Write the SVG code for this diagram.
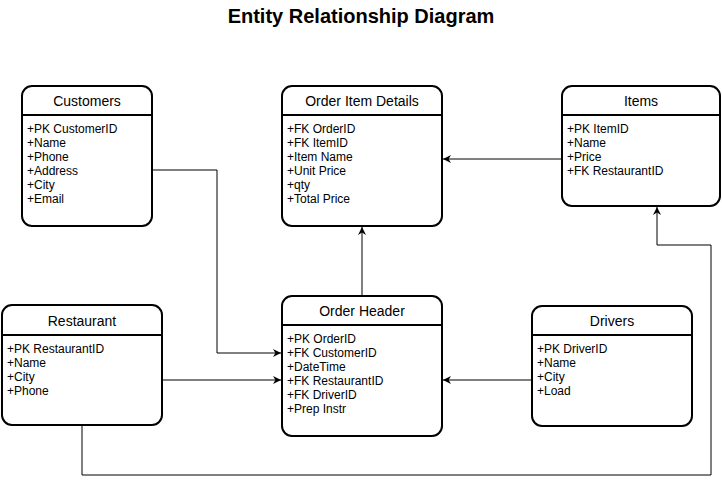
<svg xmlns="http://www.w3.org/2000/svg" width="722" height="484" viewBox="0 0 722 484">
<style>
.box{fill:#fff;stroke:#000;stroke-width:2}
.sep{stroke:#000;stroke-width:2}
.hd{font-family:"Liberation Sans",Arial,sans-serif;font-size:14px;text-anchor:middle;fill:#000}
.at{font-family:"Liberation Sans",Arial,sans-serif;font-size:12px;fill:#000}
.title{font-family:"Liberation Sans",Arial,sans-serif;font-size:20px;font-weight:bold;text-anchor:middle;fill:#000}
.cn{fill:none;stroke:#000;stroke-width:1}
</style>
<defs>
<marker id="arr" viewBox="0 0 10 10" refX="10" refY="5" markerWidth="8" markerHeight="8" markerUnits="userSpaceOnUse" orient="auto">
<path d="M0,0 L10,5 L0,10 L3,5 Z" fill="#000"/>
</marker>
</defs>
<rect width="722" height="484" fill="#fff"/>
<text class="title" x="361" y="23">Entity Relationship Diagram</text>

<g id="connectors">
<polyline class="cn" points="152,170 217,170 217,353 281,353" marker-end="url(#arr)"/>
<line class="cn" x1="162" y1="380" x2="281" y2="380" marker-end="url(#arr)"/>
<line class="cn" x1="532" y1="380" x2="443" y2="380" marker-end="url(#arr)"/>
<line class="cn" x1="362" y1="296" x2="362" y2="227" marker-end="url(#arr)"/>
<line class="cn" x1="562" y1="159" x2="443" y2="159" marker-end="url(#arr)"/>
<polyline class="cn" points="82,425 82,475 711,475 711,245 657,245 657,207" marker-end="url(#arr)"/>
</g>

<g id="customers">
<rect class="box" x="22" y="86" width="130" height="140" rx="10"/>
<line class="sep" x1="22" y1="115" x2="152" y2="115"/>
<text class="hd" x="87" y="106">Customers</text>
<text class="at" x="27" y="133">+PK CustomerID</text>
<text class="at" x="27" y="147">+Name</text>
<text class="at" x="27" y="161">+Phone</text>
<text class="at" x="27" y="175">+Address</text>
<text class="at" x="27" y="189">+City</text>
<text class="at" x="27" y="203">+Email</text>
</g>

<g id="order-item-details">
<rect class="box" x="282" y="86" width="160" height="140" rx="10"/>
<line class="sep" x1="282" y1="115" x2="442" y2="115"/>
<text class="hd" x="362" y="106">Order Item Details</text>
<text class="at" x="287" y="133">+FK OrderID</text>
<text class="at" x="287" y="147">+FK ItemID</text>
<text class="at" x="287" y="161">+Item Name</text>
<text class="at" x="287" y="175">+Unit Price</text>
<text class="at" x="287" y="189">+qty</text>
<text class="at" x="287" y="203">+Total Price</text>
</g>

<g id="items">
<rect class="box" x="562" y="86" width="158" height="120" rx="10"/>
<line class="sep" x1="562" y1="115" x2="720" y2="115"/>
<text class="hd" x="641" y="106">Items</text>
<text class="at" x="567" y="133">+PK ItemID</text>
<text class="at" x="567" y="147">+Name</text>
<text class="at" x="567" y="161">+Price</text>
<text class="at" x="567" y="175">+FK RestaurantID</text>
</g>

<g id="restaurant">
<rect class="box" x="2" y="305" width="160" height="120" rx="10"/>
<line class="sep" x1="2" y1="335" x2="162" y2="335"/>
<text class="hd" x="82" y="326">Restaurant</text>
<text class="at" x="7" y="353">+PK RestaurantID</text>
<text class="at" x="7" y="367">+Name</text>
<text class="at" x="7" y="381">+City</text>
<text class="at" x="7" y="395">+Phone</text>
</g>

<g id="order-header">
<rect class="box" x="282" y="296" width="160" height="140" rx="10"/>
<line class="sep" x1="282" y1="325" x2="442" y2="325"/>
<text class="hd" x="362" y="316">Order Header</text>
<text class="at" x="287" y="343">+PK OrderID</text>
<text class="at" x="287" y="357">+FK CustomerID</text>
<text class="at" x="287" y="371">+DateTime</text>
<text class="at" x="287" y="385">+FK RestaurantID</text>
<text class="at" x="287" y="399">+FK DriverID</text>
<text class="at" x="287" y="413">+Prep Instr</text>
</g>

<g id="drivers">
<rect class="box" x="532" y="306" width="160" height="120" rx="10"/>
<line class="sep" x1="532" y1="335" x2="692" y2="335"/>
<text class="hd" x="612" y="326">Drivers</text>
<text class="at" x="537" y="353">+PK DriverID</text>
<text class="at" x="537" y="367">+Name</text>
<text class="at" x="537" y="381">+City</text>
<text class="at" x="537" y="395">+Load</text>
</g>
</svg>
